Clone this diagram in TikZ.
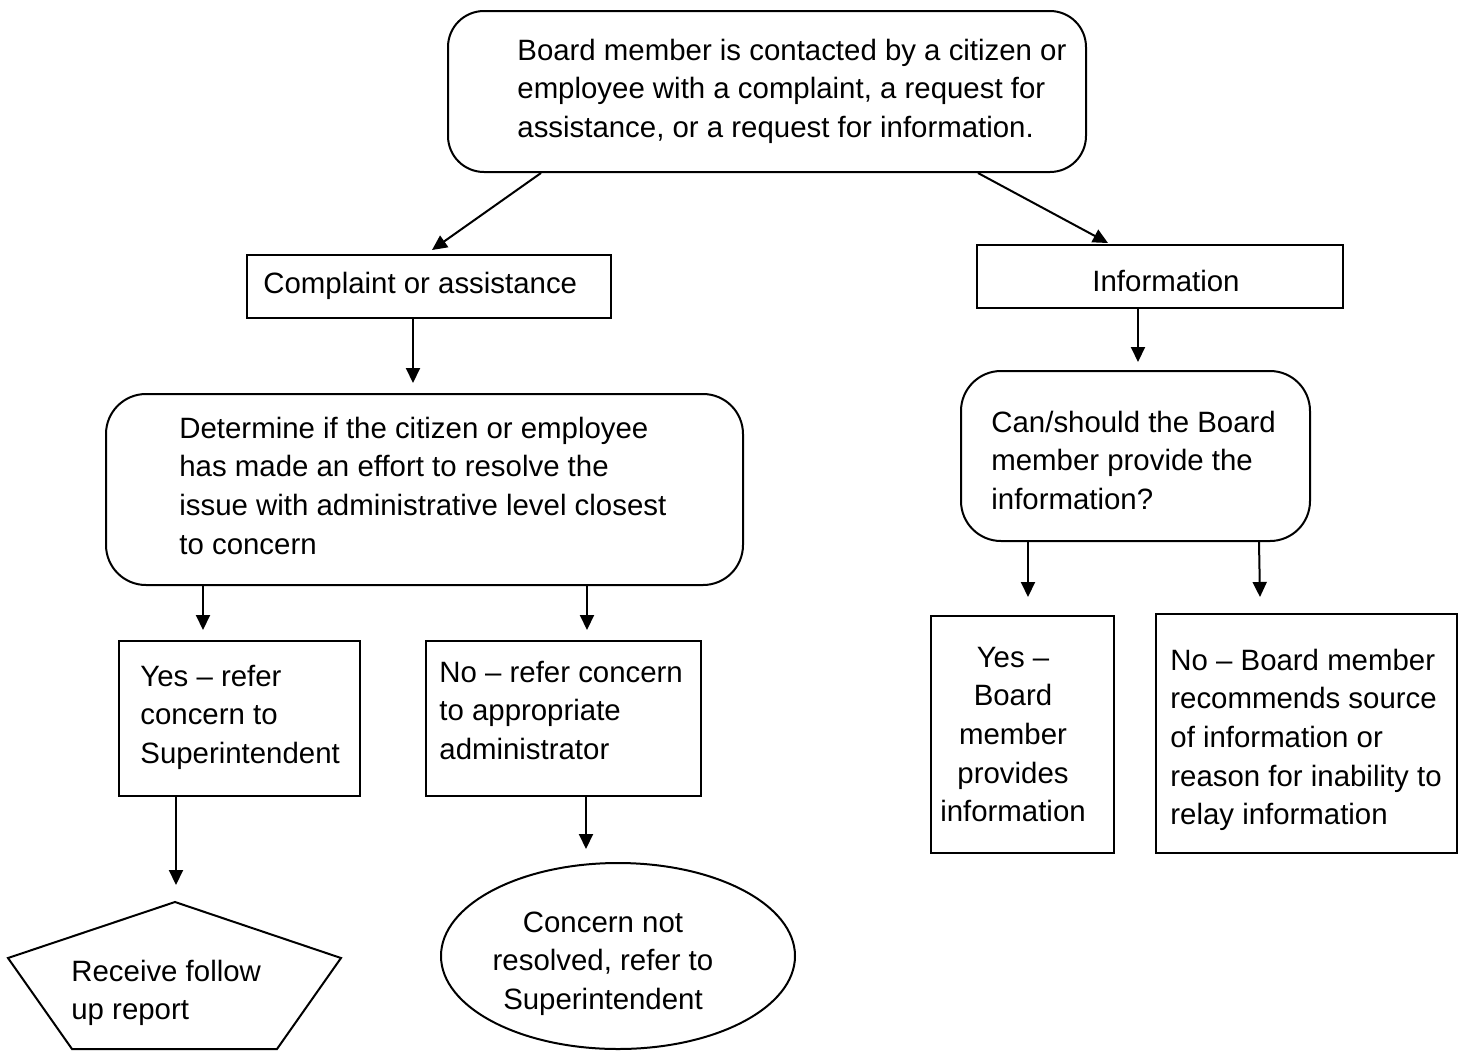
\documentclass[tikz,border=0pt]{standalone}
\usepackage{fontspec}
\setmainfont{Liberation Sans}
\usetikzlibrary{arrows.meta,calc,shapes.geometric}
\newcommand{\bodyfont}{\fontsize{14.7}{19.35}\selectfont}
\tikzset{
  boxnode/.style={draw, line width=1pt, inner sep=0pt, anchor=north west},
  roundbox/.style={boxnode, rounded corners=18pt},
  txt/.style={inner sep=0pt, align=left, anchor=base west, font=\bodyfont},
  ctxt/.style={inner sep=0pt, align=center, anchor=base, font=\bodyfont},
  arr/.style={line width=1pt, -{Triangle[length=7.5pt,width=7pt]}}
}
\begin{document}
\begin{tikzpicture}[x=0.5pt,y=-0.5pt]
\useasboundingbox (0,0) rectangle (1463,1051);
% boxes
\node[roundbox, minimum width=319pt, minimum height=80.5pt] (top) at (447,10) {};
\node[boxnode, minimum width=182pt, minimum height=31.5pt] (comp) at (246,254) {};
\node[boxnode, minimum width=183pt, minimum height=31.5pt] (info) at (976,244) {};
\node[roundbox, rounded corners=20pt, minimum width=318.5pt, minimum height=95.5pt] (det) at (105,393) {};
\node[boxnode, minimum width=120.5pt, minimum height=77.5pt] (yes) at (118,640) {};
\node[boxnode, minimum width=137.5pt, minimum height=77.5pt] (no) at (425,640) {};
\node[roundbox, rounded corners=20pt, minimum width=174.5pt, minimum height=85pt] (can) at (960,370) {};
\node[boxnode, minimum width=91.5pt, minimum height=118.5pt] (yes2) at (930,615) {};
\node[boxnode, minimum width=150.5pt, minimum height=119.5pt] (no2) at (1155,613) {};
\node[draw, line width=1pt, ellipse, inner sep=0pt, minimum width=177pt, minimum height=93pt] (ell) at (618,956) {};
\draw[line width=1pt] (175,902) coordinate (pent) -- (341,958) -- (277,1049) -- (72,1049) -- (8,958) -- cycle;
% texts (anchor = baseline of the last line)
\node[txt] (toptxt) at (517,137.4) {Board member is contacted by a citizen or\\employee with a complaint, a request for\\assistance, or a request for information.};
\node[txt] (comptxt) at (263,293) {Complaint or assistance};
\node[ctxt] (infotxt) at (1166,291) {Information};
\node[txt] (dettxt) at (179,554.1) {Determine if the citizen or employee\\has made an effort to resolve the\\issue with administrative level closest\\to concern};
\node[txt] (yestxt) at (140,763.4) {Yes -- refer\\concern to\\Superintendent};
\node[txt] (notxt) at (439,759.4) {No -- refer concern\\to appropriate\\administrator};
\node[txt] (penttxt) at (71,1019.7) {Receive follow\\up report};
\node[ctxt] (elltxt) at (603,1009.4) {Concern not\\resolved, refer to\\Superintendent};
\node[txt] (cantxt) at (991,509.4) {Can/should the Board\\member provide the\\information?};
\node[ctxt] (yes2txt) at (1013,821.8) {Yes --\\Board\\member\\provides\\information};
\node[txt] (no2txt) at (1170,824.8) {No -- Board member\\recommends source\\of information or\\reason for inability to\\relay information};
% connectors
\draw[arr] ($(top.south west)+(94,0)$) -- ($(comp.north west)+(186,-4)$);
\draw[arr] ($(top.south west)+(531,0)$) -- ($(info.north west)+(132,-1)$);
\draw[arr] ($(comp.south west)+(167,0)$) -- ($(det.north west)+(308,-10)$);
\draw[arr] ($(det.south west)+(98,0)$) -- ($(yes.north west)+(85,-10)$);
\draw[arr] ($(det.south west)+(482,0)$) -- ($(no.north west)+(162,-10)$);
\draw[arr] ($(yes.south west)+(58,0)$) -- ($(pent)+(1,-17)$);
\draw[arr] ($(no.south west)+(161,0)$) -- ($(ell.north)+(-32,-13)$);
\draw[arr] ($(info.south west)+(162,0)$) -- ($(can.north west)+(178,-8)$);
\draw[arr] ($(can.south west)+(68,0)$) -- ($(yes2.north west)+(98,-18)$);
\draw[arr] ($(can.south west)+(299,0)$) -- ($(no2.north west)+(105,-16)$);
\end{tikzpicture}
\end{document}
